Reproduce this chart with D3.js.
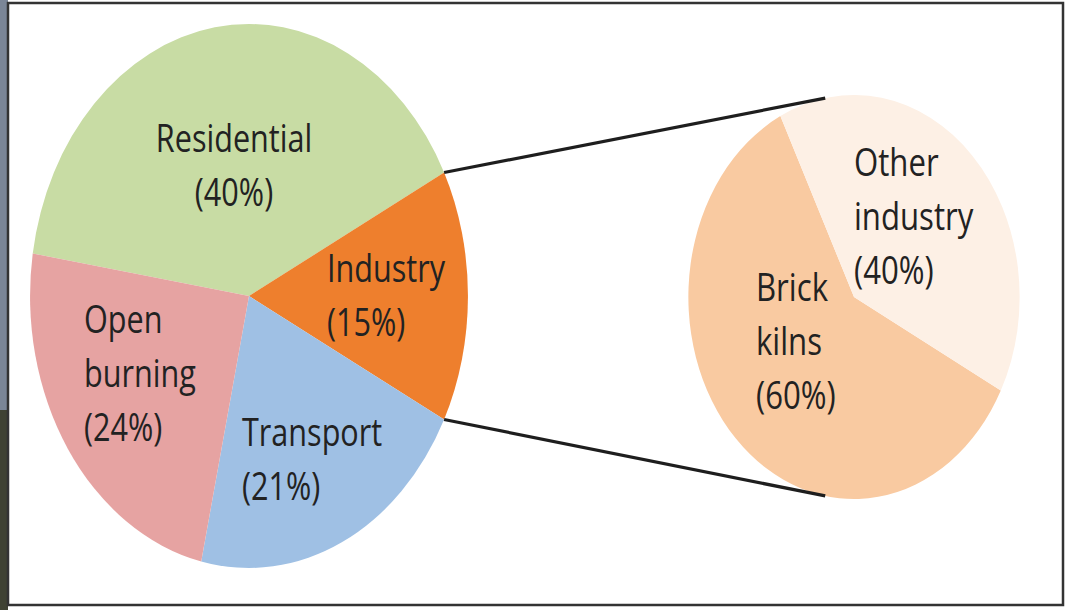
<!DOCTYPE html>
<html>
<head>
<meta charset="utf-8">
<script src="https://cdn.jsdelivr.net/npm/d3@7"></script>
<style>
  html, body { margin: 0; padding: 0; background: #ffffff; }
  svg { display: block; }
</style>
</head>
<body>
<svg id="chart" width="1069" height="610"></svg>
<script>
// ---- data ----
const mainCategories = ["Residential", "Industry", "Transport", "Open burning"];
const mainValues = [40, 15, 21, 24];
const mainLabelLines = [["Residential", "(40%)"], ["Industry", "(15%)"], ["Transport", "(21%)"], ["Open", "burning", "(24%)"]];
const subCategories = ["Brick kilns", "Other industry"];
const subValues = [60, 40];
const subLabelLines = [["Brick", "kilns", "(60%)"], ["Other", "industry", "(40%)"]];

// ---- styling / layout ----
const mainColors = ["#c8dca4", "#ee7f2d", "#9fc0e4", "#e6a3a2"];
const subColors = ["#f9caa1", "#fdf0e5"];
const svg = d3.select("#chart");

// left photo strip + frame
svg.append("rect").attr("x", 0).attr("y", 0).attr("width", 8).attr("height", 410).attr("fill", "#7b8697");
svg.append("rect").attr("x", 0).attr("y", 410).attr("width", 8).attr("height", 200).attr("fill", "#3f4233");
svg.append("rect").attr("x", 8).attr("y", 3).attr("width", 1055).attr("height", 602)
  .attr("fill", "#ffffff").attr("stroke", "#333333").attr("stroke-width", 2.5);

const main = { cx: 249, cy: 296, r: 272, sx: 0.805, start: -81 * Math.PI / 180 };
const sub = { cx: 854, cy: 297, r: 202, sx: 0.82, start: 117.6 * Math.PI / 180 };

function drawPie(cfg, cats, vals, colors) {
  const pie = d3.pie().sort(null).value(d => d.v)
    .startAngle(cfg.start).endAngle(cfg.start + 2 * Math.PI);
  const arcs = pie(cats.map((c, i) => ({ c, v: vals[i], col: colors[i] })));
  const arc = d3.arc().innerRadius(0).outerRadius(cfg.r);
  const g = svg.append("g").attr("transform", `translate(${cfg.cx},${cfg.cy}) scale(${cfg.sx},1)`);
  g.selectAll("path").data(arcs).join("path")
    .attr("d", arc).attr("fill", d => d.data.col);
  return arcs;
}
function pt(cfg, a) {
  return [cfg.cx + cfg.r * cfg.sx * Math.sin(a), cfg.cy - cfg.r * Math.cos(a)];
}

const mainArcs = drawPie(main, mainCategories, mainValues, mainColors);
const subArcs = drawPie(sub, subCategories, subValues, subColors);

// connector lines from the Industry slice to the sub pie
const ind = mainArcs[1];
const p1 = pt(main, ind.startAngle), p2 = pt(main, ind.endAngle);
const q1 = pt(sub, -10 * Math.PI / 180), q2 = pt(sub, 190 * Math.PI / 180);
svg.append("line").attr("x1", p1[0]).attr("y1", p1[1]).attr("x2", q1[0]).attr("y2", q1[1])
  .attr("stroke", "#1e1e1e").attr("stroke-width", 3.2);
svg.append("line").attr("x1", p2[0]).attr("y1", p2[1]).attr("x2", q2[0]).attr("y2", q2[1])
  .attr("stroke", "#1e1e1e").attr("stroke-width", 3.2);

// labels: [x, firstBaseline, anchor]
const mainLabelPos = [[234, 152, "middle"], [327, 282, "start"], [242, 446, "start"], [84, 333, "start"]];
const subLabelPos = [[756, 301, "start"], [854, 176, "start"]];
const lineGap = 54;

function drawLabels(lines, pos, sx) {
  lines.forEach((ls, i) => {
    const [x, y, anchor] = pos[i];
    const t = svg.append("text")
      .attr("transform", `translate(${x},${y}) scale(${sx},1)`)
      .attr("text-anchor", anchor)
      .attr("font-family", "'Open Sans', sans-serif")
      .attr("font-size", 38)
      .attr("fill", "#222222");
    ls.forEach((s, j) => t.append("tspan").attr("x", 0).attr("y", j * lineGap).text(s));
  });
}
drawLabels(mainLabelLines, mainLabelPos, main.sx);
drawLabels(subLabelLines, subLabelPos, sub.sx);
</script>
</body>
</html>
